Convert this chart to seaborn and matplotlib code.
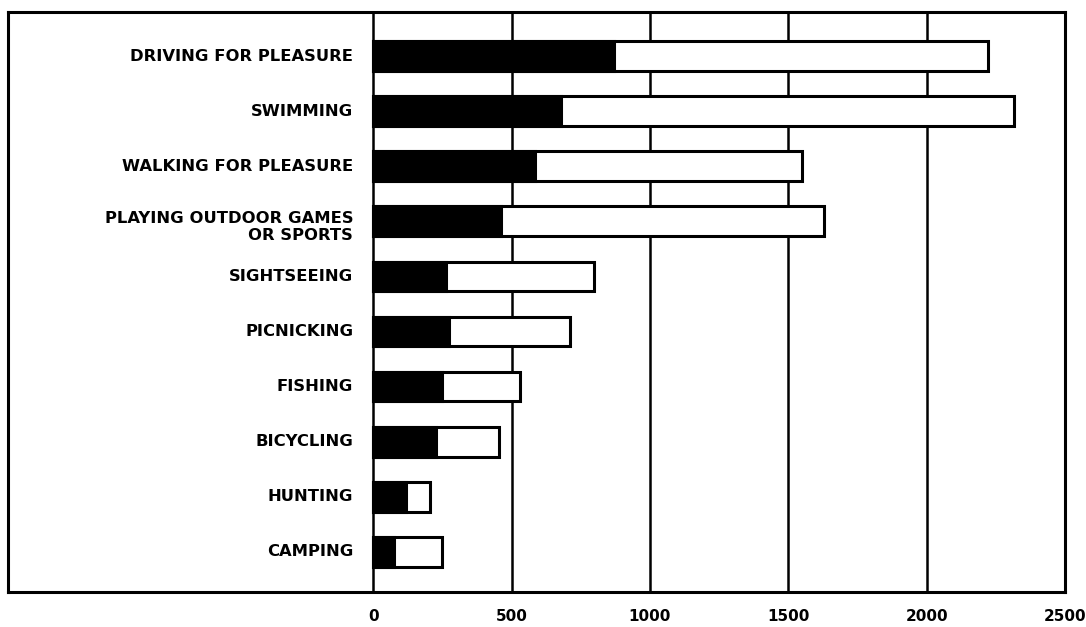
import seaborn as sns
import matplotlib.pyplot as plt
import pandas as pd

# activities, top to bottom
activities = [
    "DRIVING FOR PLEASURE",
    "SWIMMING",
    "WALKING FOR PLEASURE",
    "PLAYING OUTDOOR GAMES\nOR SPORTS",
    "SIGHTSEEING",
    "PICNICKING",
    "FISHING",
    "BICYCLING",
    "HUNTING",
    "CAMPING",
]
# black part of each bar
black_part = [870, 680, 583, 463, 263, 274, 248, 226, 120, 76]
# full length of each bar (black + white)
bar_total = [2220, 2315, 1550, 1630, 797, 710, 530, 453, 204, 250]
x_ticks = [0, 500, 1000, 1500, 2000, 2500]


def main():
    sns.set_style("white")
    plt.rcParams["font.family"] = ["DejaVu Sans"]
    plt.rcParams["text.color"] = "black"
    plt.rcParams["xtick.color"] = "black"

    df = pd.DataFrame({"activity": activities, "black": black_part, "total": bar_total})

    fig = plt.figure(figsize=(10.86, 6.27), dpi=100)
    ax = fig.add_axes([8 / 1086, 1 - 592 / 627, (1065 - 8) / 1086, (592 - 12) / 627])

    # white outlined bar for the total, black bar drawn over it
    sns.barplot(data=df, x="total", y="activity", orient="h", color="white",
                edgecolor="black", linewidth=2.2, width=0.54, ax=ax, zorder=3)
    sns.barplot(data=df, x="black", y="activity", orient="h", color="black",
                edgecolor="black", linewidth=2.2, width=0.54, ax=ax, zorder=4)

    ax.set_xlim(-1320, 2500)
    ax.set_ylim(9.73, -0.8)
    ax.set_xticks(x_ticks)
    ax.set_xticklabels([str(t) for t in x_ticks], fontsize=11, fontweight="bold", color="black")
    ax.tick_params(axis="x", length=0, pad=12)
    ax.set_yticks([])
    ax.set_xlabel("")
    ax.set_ylabel("")

    ax.xaxis.grid(True, color="black", linewidth=1.8)
    ax.set_axisbelow(True)
    for side in ax.spines.values():
        side.set_visible(True)
        side.set_color("black")
        side.set_linewidth(2.2)

    # labels sit inside the frame, left of zero
    for i, name in enumerate(activities):
        dy = 0.1 if "\n" in name else 0
        ax.text(-72, i + dy, name, ha="right", va="center", multialignment="right",
                fontsize=11.8, fontweight="bold", linespacing=1.15, color="black", zorder=5)

    fig.savefig("out.png", dpi=100, facecolor="white")


if __name__ == "__main__":
    main()
